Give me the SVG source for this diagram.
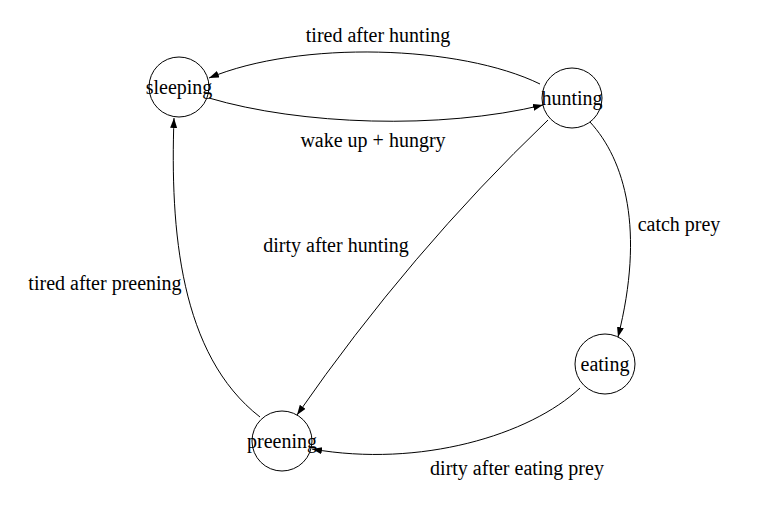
<svg xmlns="http://www.w3.org/2000/svg" width="763" height="517" viewBox="0 0 763 517">
<style>
.node circle{fill:#fff;stroke:#000;stroke-width:1}
text{font-family:"Liberation Serif","Times New Roman",serif;font-size:20px;fill:#000;text-anchor:middle}
.edge path{fill:none;stroke:#000;stroke-width:1}
</style>
<defs>
<marker id="arr" markerUnits="userSpaceOnUse" markerWidth="11" markerHeight="8" refX="10" refY="3.5" orient="auto">
<path d="M0,0 L10,3.5 L0,7 z" fill="#000"/>
</marker>
</defs>
<rect width="763" height="517" fill="#fff"/>
<g id="connectors" class="edge">
<path d="M540,84 C460,45 300,40 209,78" marker-end="url(#arr)"/>
<path d="M209,98 C300,125 440,130 543,105" marker-end="url(#arr)"/>
<path d="M590,122 C625,160 645,230 618,337" marker-end="url(#arr)"/>
<path d="M548,120 Q410,252 297,415" marker-end="url(#arr)"/>
<path d="M580,388 C530,435 420,468 312,449" marker-end="url(#arr)"/>
<path d="M260,417 C180,355 170,230 174,118" marker-end="url(#arr)"/>
</g>
<g id="edge-labels">
<text x="378" y="42">tired after hunting</text>
<text x="373" y="147">wake up + hungry</text>
<text x="679" y="231">catch prey</text>
<text x="336" y="252">dirty after hunting</text>
<text x="517" y="475">dirty after eating prey</text>
<text x="105" y="290">tired after preening</text>
</g>
<g id="node-sleeping" class="node"><circle cx="179" cy="87" r="30"/><text x="179" y="94">sleeping</text></g>
<g id="node-hunting" class="node"><circle cx="572" cy="98" r="30"/><text x="572" y="105">hunting</text></g>
<g id="node-eating" class="node"><circle cx="605" cy="364" r="30"/><text x="605" y="371">eating</text></g>
<g id="node-preening" class="node"><circle cx="282" cy="441" r="30"/><text x="282" y="448">preening</text></g>
</svg>
